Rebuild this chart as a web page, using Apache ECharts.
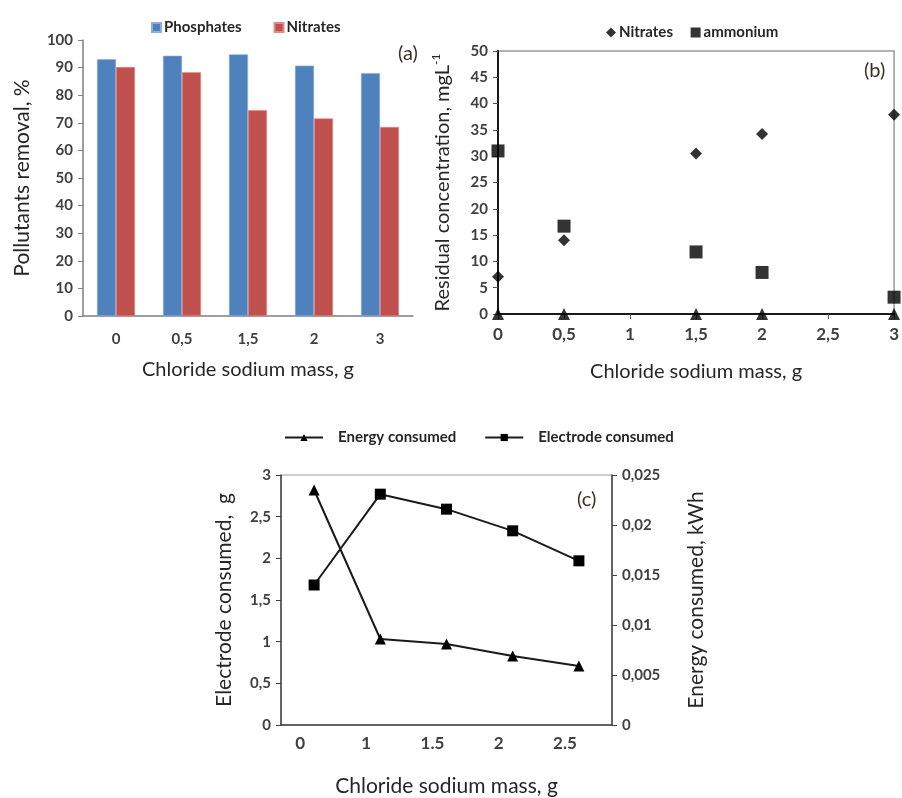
<!DOCTYPE html>
<html>
<head>
<meta charset="utf-8">
<script src="https://cdn.jsdelivr.net/npm/echarts@6/dist/echarts.min.js"></script>
<style>
  html, body { margin: 0; padding: 0; background: #fff; }
  #chart { width: 902px; height: 798px; }
</style>
</head>
<body>
<div id="chart"></div>
<script>
// (a) removal percentages
const massCatsA = ["0", "0,5", "1,5", "2", "3"];
const phosphatesRemoval = [93, 94.3, 94.8, 90.7, 88];
const nitratesRemoval = [90.2, 88.3, 74.6, 71.6, 68.5];

// (b) residual concentration, mg/L
const massB = [0, 0.5, 1.5, 2, 3];
const nitratesResidual = [7.1, 14, 30.5, 34.2, 37.9];
const ammoniumResidual = [31, 16.7, 11.8, 7.9, 3.2];
const baselineResidual = [0, 0, 0, 0, 0];

// (c) consumption
const massCatsC = ["0", "1", "1.5", "2", "2.5"];
const electrodeConsumed = [1.68, 2.77, 2.59, 2.33, 1.97];
const energyConsumed = [0.0235, 0.0086, 0.0081, 0.0069, 0.0059];

const FONT = "Lato";
const TXT = "#262626";
const TICK_TXT = "#404040";
const comma = (v) => String(Number(v.toFixed(4))).replace(".", ",");

const chart = echarts.init(document.getElementById("chart"));

const boldTick = (size) => ({
  fontFamily: FONT,
  fontWeight: "bold",
  fontSize: size,
  color: TICK_TXT,
});

const legendText = (pad) => ({
  fontFamily: FONT,
  fontWeight: "bold",
  fontSize: 15,
  color: TXT,
  padding: pad,
});

const option = {
  animation: false,
  backgroundColor: "#fff",
  textStyle: { fontFamily: FONT },
  legend: [
    {
      data: ["Phosphates", "Nitrates"],
      left: 146,
      top: 15,
      itemWidth: 9,
      itemHeight: 9,
      itemGap: 32,
      icon: "rect",
      textStyle: legendText([0, 0, 0, -2]),
    },
    {
      data: [
        { name: "Nitrates ", icon: "diamond" },
        { name: "ammonium", icon: "rect" },
      ],
      left: 601,
      top: 20,
      itemWidth: 10,
      itemHeight: 10,
      itemGap: 14,
      textStyle: legendText([0, 0, 0, -2]),
    },
    {
      data: ["Energy consumed", "Electrode consumed"],
      left: 279,
      top: 425,
      itemWidth: 38,
      itemHeight: 9,
      itemGap: 28,
      textStyle: legendText([0, 0, 0, 10]),
    },
  ],
  grid: [
    { left: 83, top: 40, width: 330, height: 276 },
    { left: 498, top: 51, width: 399, height: 263, show: true, borderColor: "#9a9a9a", borderWidth: 1.5 },
    { left: 281, top: 475, width: 331, height: 251, show: true, borderColor: "#9a9a9a", borderWidth: 1 },
  ],
  graphic: [
    { type: "text", left: 398, top: 44, style: { text: "(a)", font: "20px " + FONT, fill: "#3a3020" } },
    { type: "text", left: 864, top: 61, style: { text: "(b)", font: "20px " + FONT, fill: "#3a3020" } },
    { type: "text", left: 577, top: 490, style: { text: "(c)", font: "20px " + FONT, fill: "#3a3020" } },
  ],
  xAxis: [
    {
      type: "category",
      gridIndex: 0,
      data: massCatsA,
      axisLine: { lineStyle: { color: "#7f7f7f", width: 1.5 } },
      axisTick: { length: 6, lineStyle: { color: "#7f7f7f" } },
      axisLabel: { ...boldTick(15), margin: 16 },
      name: "Chloride sodium mass, g",
      nameLocation: "middle",
      nameGap: 44,
      nameTextStyle: { fontFamily: FONT, fontSize: 20, color: TXT },
    },
    {
      type: "value",
      gridIndex: 1,
      min: 0,
      max: 3,
      interval: 0.5,
      splitLine: { show: false },
      axisLine: { show: true, onZero: false, lineStyle: { color: "#1a1a1a", width: 2 } },
      axisTick: { length: 5, lineStyle: { color: "#555" } },
      axisLabel: { ...boldTick(17), margin: 12, formatter: comma },
      name: "Chloride sodium mass, g",
      nameLocation: "middle",
      nameGap: 48,
      nameTextStyle: { fontFamily: FONT, fontSize: 20, color: TXT },
    },
    {
      type: "category",
      gridIndex: 2,
      data: massCatsC,
      boundaryGap: true,
      axisLine: { lineStyle: { color: "#404040", width: 1.5 } },
      axisTick: { alignWithLabel: true, length: 5, lineStyle: { color: "#404040" } },
      axisLabel: { ...boldTick(17), margin: 10, padding: [0, 28, 0, 0] },
      name: "Chloride sodium mass, g",
      nameLocation: "middle",
      nameGap: 51,
      nameTextStyle: { fontFamily: FONT, fontSize: 21, color: TXT },
    },
  ],
  yAxis: [
    {
      type: "value",
      gridIndex: 0,
      min: 0,
      max: 100,
      interval: 10,
      splitLine: { show: false },
      axisLine: { show: true, lineStyle: { color: "#7f7f7f", width: 1.5 } },
      axisTick: { show: true, length: 5, lineStyle: { color: "#7f7f7f" } },
      axisLabel: { ...boldTick(15), margin: 10 },
      name: "Pollutants removal, %",
      nameLocation: "middle",
      nameGap: 50,
      nameTextStyle: { fontFamily: FONT, fontSize: 21, color: TXT },
    },
    {
      type: "value",
      gridIndex: 1,
      min: 0,
      max: 50,
      interval: 5,
      splitLine: { show: false },
      axisLine: { show: true, lineStyle: { color: "#1a1a1a", width: 2 } },
      axisTick: { show: true, length: 5, lineStyle: { color: "#555" } },
      axisLabel: { ...boldTick(15), margin: 10 },
      name: "{m|Residual concentration, mgL}{s|-1}",
      nameLocation: "middle",
      nameGap: 42,
      nameTextStyle: {
        rich: {
          m: { fontFamily: FONT, fontSize: 20, color: TXT, lineHeight: 26 },
          s: { fontFamily: FONT, fontSize: 12, color: TXT, verticalAlign: "top", lineHeight: 26 },
        },
      },
    },
    {
      type: "value",
      gridIndex: 2,
      min: 0,
      max: 3,
      interval: 0.5,
      splitLine: { show: false },
      axisLine: { show: true, lineStyle: { color: "#404040", width: 1.5 } },
      axisTick: { show: true, length: 5, lineStyle: { color: "#404040" } },
      axisLabel: { ...boldTick(15), margin: 10, formatter: comma },
      name: "Electrode consumed,  g",
      nameLocation: "middle",
      nameGap: 46,
      nameTextStyle: { fontFamily: FONT, fontSize: 21, color: TXT },
    },
    {
      type: "value",
      gridIndex: 2,
      position: "right",
      min: 0,
      max: 0.025,
      interval: 0.005,
      splitLine: { show: false },
      axisLine: { show: true, lineStyle: { color: "#404040", width: 1.5 } },
      axisTick: { show: true, length: 5, lineStyle: { color: "#404040" } },
      axisLabel: { ...boldTick(15), margin: 10, formatter: comma },
      name: "Energy consumed, kWh",
      nameLocation: "middle",
      nameRotate: 90,
      nameGap: 74,
      nameTextStyle: { fontFamily: FONT, fontSize: 21, color: TXT },
    },
  ],
  series: [
    {
      name: "Phosphates",
      type: "bar",
      xAxisIndex: 0,
      yAxisIndex: 0,
      data: phosphatesRemoval,
      barWidth: 19,
      barGap: "0%",
      itemStyle: { color: "#4F81BD", borderColor: "#8aaee0", borderWidth: 0.6 },
    },
    {
      name: "Nitrates",
      type: "bar",
      xAxisIndex: 0,
      yAxisIndex: 0,
      data: nitratesRemoval,
      barWidth: 19,
      barGap: "0%",
      itemStyle: { color: "#C0504D", borderColor: "#e08a88", borderWidth: 0.6 },
    },
    {
      name: "Nitrates ",
      type: "scatter",
      xAxisIndex: 1,
      yAxisIndex: 1,
      symbol: "diamond",
      symbolSize: 12,
      clip: false,
      itemStyle: { color: "#000" },
      data: massB.map((x, i) => [x, nitratesResidual[i]]),
    },
    {
      name: "ammonium",
      type: "scatter",
      xAxisIndex: 1,
      yAxisIndex: 1,
      symbol: "rect",
      symbolSize: 13,
      clip: false,
      itemStyle: { color: "#000" },
      data: massB.map((x, i) => [x, ammoniumResidual[i]]),
    },
    {
      name: "baseline",
      type: "scatter",
      xAxisIndex: 1,
      yAxisIndex: 1,
      symbol: "triangle",
      symbolSize: 12,
      clip: false,
      itemStyle: { color: "#000" },
      data: massB.map((x, i) => [x, baselineResidual[i]]),
    },
    {
      name: "Energy consumed",
      type: "line",
      xAxisIndex: 2,
      yAxisIndex: 3,
      data: energyConsumed,
      symbol: "triangle",
      symbolSize: 11,
      lineStyle: { color: "#1a1a1a", width: 2 },
      itemStyle: { color: "#000" },
    },
    {
      name: "Electrode consumed",
      type: "line",
      xAxisIndex: 2,
      yAxisIndex: 2,
      data: electrodeConsumed,
      symbol: "rect",
      symbolSize: 11,
      lineStyle: { color: "#1a1a1a", width: 2 },
      itemStyle: { color: "#000" },
    },
  ],
};

chart.setOption(option);
</script>
</body>
</html>
